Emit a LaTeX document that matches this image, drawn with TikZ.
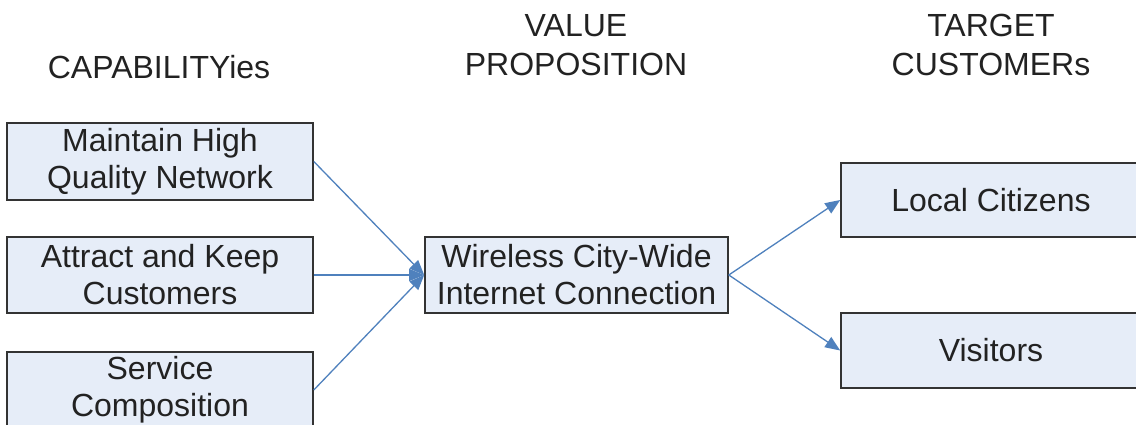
\documentclass[tikz,border=0pt]{standalone}
\usepackage{fontspec}
\setmainfont{Liberation Sans}
\usetikzlibrary{arrows.meta,shadows}
\definecolor{boxfill}{HTML}{E6EDF8}
\definecolor{boxline}{HTML}{333333}
\definecolor{arrowblue}{HTML}{4F81BD}
\definecolor{textgray}{HTML}{222222}
\tikzset{
  capbox/.style={draw=boxline, line width=1.6pt, fill=boxfill, inner sep=0pt,
    align=center, text=textgray, font=\fontsize{32}{37}\selectfont,
    drop shadow={shadow xshift=1pt, shadow yshift=-1.2pt, fill=black!35, opacity=0.7}},
  header/.style={align=center, text=textgray, font=\fontsize{32}{39}\selectfont, inner sep=0pt, anchor=north},
  link/.style={draw=arrowblue, line width=1.3pt},
  arrowlink/.style={link, -{Triangle[length=15pt,width=12pt]}}
}
\begin{document}
\begin{tikzpicture}[x=1pt,y=-1pt]
\useasboundingbox (0,0) rectangle (1136,425);
\fill[white] (0,0) rectangle (1136,425);
% headers
\node[header] (hc) at (159,55) {CAPABILITYies};
\node[header] (hv) at (576,14) {VALUE\\PROPOSITION};
\node[header] (ht) at (991,14) {TARGET\\CUSTOMERs};
% left boxes
\node[capbox, minimum width=306pt, minimum height=77pt] (c1) at (160,161.5) {Maintain High\\Quality Network};
\node[capbox, minimum width=306pt, minimum height=76pt] (c2) at (160,275) {Attract and Keep\\Customers};
\node[capbox, minimum width=306pt, minimum height=76pt] (c3) at (160,390) {Service\\Composition};
% middle box
\node[capbox, minimum width=303pt, minimum height=76pt] (v) at (576.5,275) {Wireless City-Wide\\Internet Connection};
% right boxes
\node[capbox, minimum width=300pt, minimum height=74pt] (t1) at (991,200) {Local Citizens};
\node[capbox, minimum width=300pt, minimum height=75pt] (t2) at (991,350.5) {Visitors};
% connectors
\draw[arrowlink] (c1.east) -- (v.west);
\draw[arrowlink] (c2.east) -- (v.west);
\draw[arrowlink] (c3.east) -- (v.west);
\draw[arrowlink] (v.east) -- (t1.west);
\draw[arrowlink] (v.east) -- (t2.west);
\end{tikzpicture}
\end{document}
